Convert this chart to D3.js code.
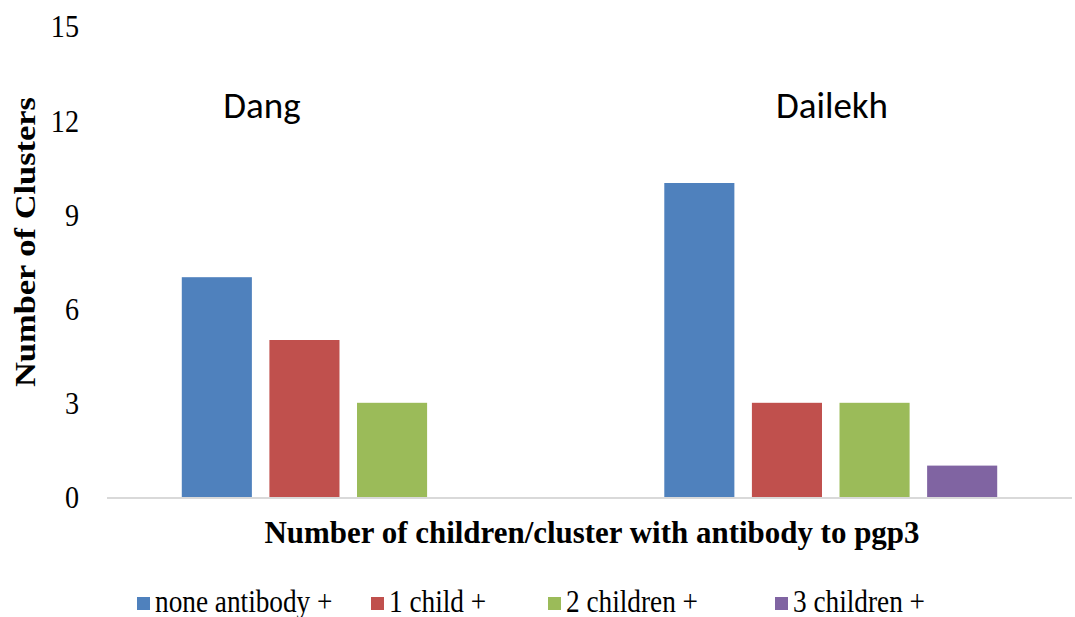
<!DOCTYPE html>
<html>
<head>
<meta charset="utf-8">
<script src="https://cdn.jsdelivr.net/npm/d3@7"></script>
<style>
  html, body { margin: 0; padding: 0; background: #fff; }
  svg { display: block; }
  .serif { font-family: "Liberation Serif"; }
  .calibri { font-family: Carlito; }
</style>
</head>
<body>
<svg id="chart" width="1075" height="617"></svg>
<script>
// Districts and series
const districts = ["Dang", "Dailekh"];
const seriesNames = ["none antibody +", "1 child +", "2 children +", "3 children +"];
const seriesColors = ["#4f81bd", "#c0504d", "#9bbb59", "#8064a2"];
// Clusters per district for each series
const noneAntibody = [7, 10];
const oneChild = [5, 3];
const twoChildren = [3, 3];
const threeChildren = [0, 1];
const yTicks = [0, 3, 6, 9, 12, 15];

const seriesValues = [noneAntibody, oneChild, twoChildren, threeChildren];

const svg = d3.select("#chart");
const plot = { left: 107, right: 1072, top: 26, bottom: 497 };
const squeeze = 0.88; // narrow, tall serif lettering

const x0 = d3.scaleBand().domain(districts).range([plot.left, plot.right]).paddingInner(0.31).paddingOuter(0.155);
const x1 = d3.scaleBand().domain(seriesNames).range([0, x0.bandwidth()]).paddingInner(0.2);
const y = d3.scaleLinear().domain([0, 15]).range([plot.bottom, plot.top]);

// Bars
districts.forEach((d, i) => {
  svg.append("g")
    .selectAll("rect")
    .data(seriesNames.map((s, j) => ({ s, j, v: seriesValues[j][i] })).filter(e => e.v > 0))
    .join("rect")
    .attr("x", e => x0(d) + x1(e.s))
    .attr("width", x1.bandwidth())
    .attr("y", e => y(e.v))
    .attr("height", e => y(0) - y(e.v))
    .attr("fill", e => seriesColors[e.j]);
});

// Baseline
svg.append("line")
  .attr("x1", plot.left).attr("x2", plot.right)
  .attr("y1", y(0) + 1).attr("y2", y(0) + 1)
  .attr("stroke", "#d9d9d9").attr("stroke-width", 2);

// Y axis tick labels (no axis line)
const yAxis = d3.axisLeft(y).tickValues(yTicks).tickSize(0).tickPadding(0);
const gy = svg.append("g").attr("transform", "translate(79,0)").call(yAxis);
gy.attr("font-family", null).attr("font-size", null);
gy.select(".domain").remove();
gy.selectAll("text")
  .attr("class", "serif")
  .style("font-size", "32px")
  .attr("fill", "#000")
  .attr("x", 0)
  .attr("dy", "0.34em")
  .attr("transform", `scale(${squeeze},1)`);

// Y axis title
svg.append("text")
  .attr("class", "serif")
  .attr("transform", `translate(35,242) rotate(-90) scale(1,${squeeze})`)
  .attr("text-anchor", "middle")
  .style("font-weight", "bold")
  .style("font-size", "33px")
  .attr("textLength", 290)
  .attr("lengthAdjust", "spacingAndGlyphs")
  .text("Number of Clusters");

// X axis title
svg.append("text")
  .attr("class", "serif")
  .attr("x", 592).attr("y", 543)
  .attr("text-anchor", "middle")
  .style("font-weight", "bold")
  .style("font-size", "31px")
  .attr("textLength", 655)
  .attr("lengthAdjust", "spacingAndGlyphs")
  .text("Number of children/cluster with antibody to pgp3");

// District labels
const districtLabelX = [262, 832];
svg.selectAll(".district")
  .data(districts)
  .join("text")
  .attr("class", "district calibri")
  .attr("x", (d, i) => districtLabelX[i])
  .attr("y", 118)
  .attr("text-anchor", "middle")
  .style("font-size", "37px")
  .attr("fill", "#000")
  .text(d => d);

// Legend
const legendX = [137, 371, 548, 775];
const legend = svg.append("g");
seriesNames.forEach((s, j) => {
  legend.append("rect")
    .attr("x", legendX[j]).attr("y", 597)
    .attr("width", 13).attr("height", 13)
    .attr("fill", seriesColors[j]);
  legend.append("text")
    .attr("class", "serif")
    .attr("transform", `translate(${legendX[j] + 18},612) scale(${squeeze},1)`)
    .style("font-size", "31px")
    .attr("fill", "#000")
    .text(s);
});
</script>
</body>
</html>
